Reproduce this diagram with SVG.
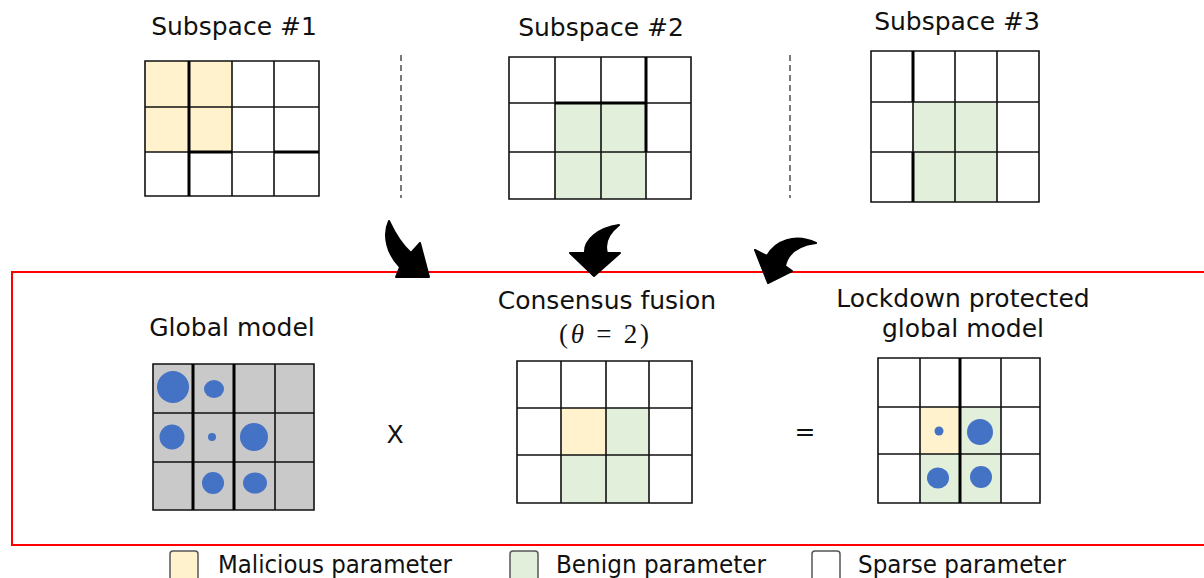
<svg xmlns="http://www.w3.org/2000/svg" width="1204" height="578" viewBox="0 0 1204 578">
  <defs>
    <style>
      .title { font-family: "DejaVu Sans", Verdana, sans-serif; font-size: 25px; fill: #111; text-anchor: middle; }
      .math { font-family: "Liberation Serif", "DejaVu Serif", serif; font-size: 27px; fill: #111; text-anchor: middle; }
      .legend { font-family: "DejaVu Sans Condensed", "DejaVu Sans", sans-serif; font-size: 24px; fill: #111; }
      .grid { fill: none; stroke: #111; stroke-width: 1.6; }
      .thick { fill: none; stroke: #000; stroke-width: 3; }
      .mal { fill: #fff2cc; }
      .ben { fill: #e2efda; }
      .gray { fill: #c9c9c9; }
      .dot { fill: #4472c4; }
      .sep { stroke: #333; stroke-width: 1.3; stroke-dasharray: 6 4; }
      .arrow { fill: #000; stroke: #000; stroke-width: 2; stroke-linejoin: round; }
      .key { stroke: #555; stroke-width: 1.5; }
    </style>
  </defs>

  <!-- Client subspaces -->
  <g id="subspace1">
    <text class="title" x="234" y="35">Subspace #1</text>
    <rect class="mal" x="145" y="61" width="87" height="91"/>
    <path class="grid" d="M145,61H319V196H145Z M189,61V196 M232,61V196 M274,61V196 M145,107H319 M145,152H319"/>
    <path class="thick" d="M189,61V196 M189,152H232 M274,152H319"/>
  </g>

  <g id="subspace2">
    <text class="title" x="601" y="36">Subspace #2</text>
    <rect class="ben" x="555" y="103" width="91" height="96"/>
    <path class="grid" d="M509,57H691V199H509Z M555,57V199 M601,57V199 M646,57V199 M509,103H691 M509,152H691"/>
    <path class="thick" d="M646,57V152 M555,103H646"/>
  </g>

  <g id="subspace3">
    <text class="title" x="957" y="30">Subspace #3</text>
    <rect class="ben" x="913" y="102" width="84" height="100"/>
    <path class="grid" d="M871,51H1039V202H871Z M913,51V202 M955,51V202 M997,51V202 M871,102H1039 M871,152H1039"/>
    <path class="thick" d="M913,51V102 M913,152V202"/>
  </g>

  <!-- Dashed separators -->
  <g id="separators">
    <line class="sep" x1="401" y1="55" x2="401" y2="198"/>
    <line class="sep" x1="790" y1="55" x2="790" y2="198"/>
  </g>

  <!-- Server-side frame -->
  <rect id="server" x="12" y="272" width="1200" height="273" fill="none" stroke="#ff0000" stroke-width="2"/>

  <!-- Upload arrows -->
  <g id="connectors">
    <path class="arrow" d="M429,277 L396,277 L400,267 C388,255 382,236 389,221 C396,236 404,247 411,253 L420,243 Z"/>
    <path class="arrow" d="M594,276 L570,253 L585,253 C584,240 598,228 619,225 C609,233 604,243 607,253 L620,253 Z"/>
    <path class="arrow" d="M768,283 L755,250 L767,256 C775,241 795,233 816,243 C800,245 788,252 785,266 L792,271 Z"/>
  </g>

  <g id="global-model">
    <text class="title" x="232" y="336">Global model</text>
    <rect class="gray" x="153" y="364" width="161" height="146"/>
    <path class="grid" d="M153,364H314V510H153Z M193,364V510 M234,364V510 M275,364V510 M153,413H314 M153,462H314"/>
    <path class="thick" d="M193,364V510 M234,364V510"/>
    <circle class="dot" cx="173" cy="387" r="16"/>
    <ellipse class="dot" cx="214" cy="389" rx="10" ry="9"/>
    <circle class="dot" cx="172" cy="437" r="12.5"/>
    <circle class="dot" cx="212" cy="437" r="4"/>
    <circle class="dot" cx="254" cy="437" r="14"/>
    <circle class="dot" cx="213" cy="483" r="11"/>
    <ellipse class="dot" cx="255" cy="483" rx="12" ry="10.5"/>
  </g>

  <text id="times" class="title" x="395" y="443">X</text>

  <g id="consensus-fusion">
    <text class="title" x="607" y="309">Consensus fusion</text>
    <text class="math" x="604" y="343" textLength="90" lengthAdjust="spacing">(<tspan font-style="italic">θ</tspan> = 2)</text>
    <rect class="mal" x="561" y="408" width="45" height="47"/>
    <rect class="ben" x="606" y="408" width="43" height="47"/>
    <rect class="ben" x="561" y="455" width="88" height="48"/>
    <path class="grid" d="M517,361H692V503H517Z M561,361V503 M606,361V503 M649,361V503 M517,408H692 M517,455H692"/>
  </g>

  <text id="equals" class="title" x="805" y="440">=</text>

  <g id="protected-model">
    <text class="title" x="963" y="307">Lockdown protected</text>
    <text class="title" x="963" y="337">global model</text>
    <rect class="mal" x="920" y="407" width="40" height="47"/>
    <rect class="ben" x="960" y="407" width="41" height="47"/>
    <rect class="ben" x="920" y="454" width="81" height="49"/>
    <path class="grid" d="M878,358H1040V503H878Z M920,358V503 M960,358V503 M1001,358V503 M878,407H1040 M878,454H1040"/>
    <path class="thick" d="M960,358V503"/>
    <circle class="dot" cx="939" cy="431" r="4.5"/>
    <circle class="dot" cx="980" cy="432" r="13"/>
    <ellipse class="dot" cx="938" cy="478" rx="11" ry="10.5"/>
    <circle class="dot" cx="981" cy="477" r="11"/>
  </g>

  <!-- Legend -->
  <g id="legend">
    <rect class="key mal" x="170" y="551" width="28" height="32" rx="3"/>
    <text class="legend" x="218" y="573" textLength="234" lengthAdjust="spacingAndGlyphs">Malicious parameter</text>
    <rect class="key ben" x="510" y="551" width="28" height="32" rx="3"/>
    <text class="legend" x="556" y="573" textLength="210" lengthAdjust="spacingAndGlyphs">Benign parameter</text>
    <rect class="key" x="812" y="551" width="28" height="32" rx="3" fill="#fff"/>
    <text class="legend" x="858" y="573" textLength="208" lengthAdjust="spacingAndGlyphs">Sparse parameter</text>
  </g>
</svg>
